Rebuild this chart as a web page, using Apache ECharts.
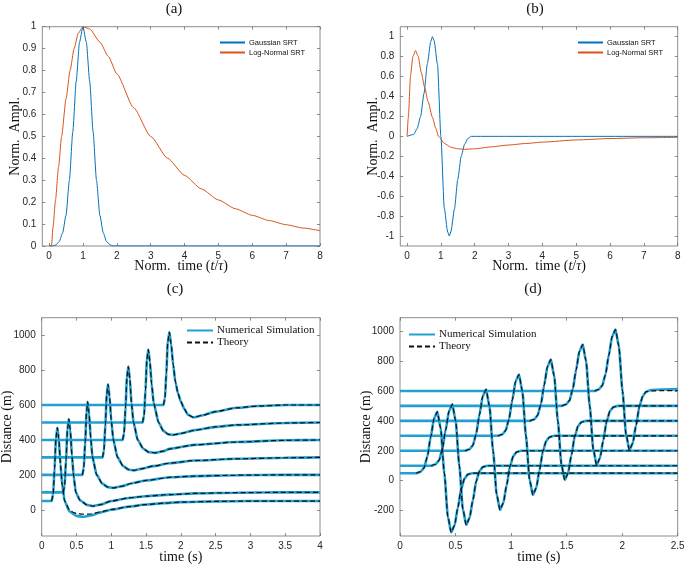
<!DOCTYPE html>
<html>
<head>
<meta charset="utf-8">
<script src="https://cdn.jsdelivr.net/npm/echarts@6/dist/echarts.min.js"></script>
<style>
  html, body { margin: 0; padding: 0; background: #fff; }
  #main { width: 685px; height: 566px; }
</style>
</head>
<body>
<div id="main"></div>
<script>
// ---- (a) normalised source time functions ----
var gaussA = [[0,0],[0.1,0],[0.2,0.005],[0.3,0.02],[0.4,0.06],[0.5,0.14],[0.6,0.3],[0.7,0.52],[0.8,0.75],[0.9,0.93],[1,1],
  [1.1,0.93],[1.2,0.75],[1.3,0.52],[1.4,0.3],[1.5,0.14],[1.6,0.06],[1.7,0.02],[1.8,0.005],[1.9,0],[8,0]];
var lognA = [[0,0],[0.07,0],[0.12,0.09],[0.19,0.21],[0.28,0.36],[0.37,0.5],[0.5,0.67],[0.62,0.8],[0.74,0.9],[0.86,0.97],[1,1],
  [1.2,0.99],[1.5,0.93],[1.75,0.865],[2,0.785],[2.5,0.63],[3,0.5],[3.5,0.4],[4,0.322],[4.5,0.26],[5,0.21],[5.5,0.17],
  [6,0.14],[6.5,0.116],[7,0.097],[7.5,0.082],[8,0.07]];

// ---- (b) derivatives ----
var gaussB = [[0,0],[0.2,0.02],[0.3,0.08],[0.4,0.2],[0.5,0.43],[0.6,0.73],[0.7,0.95],[0.75,1],[0.8,0.96],[0.9,0.72],[1.0,0],
  [1.1,-0.72],[1.2,-0.96],[1.25,-1],[1.3,-0.95],[1.4,-0.73],[1.5,-0.43],[1.6,-0.2],[1.7,-0.08],[1.8,-0.02],[1.9,0],[8,0]];
var lognB = [[0,0],[0.04,0.2],[0.1,0.6],[0.17,0.8],[0.25,0.86],[0.33,0.8],[0.42,0.64],[0.52,0.49],[0.62,0.35],[0.75,0.19],
  [0.85,0.08],[0.93,0],[1.1,-0.07],[1.3,-0.11],[1.5,-0.125],[1.7,-0.13],[2,-0.125],[2.5,-0.105],[3,-0.087],[3.5,-0.072],
  [4,-0.058],[5,-0.036],[6,-0.022],[7,-0.014],[8,-0.01]];

// ---- (c) distance traces, numerical simulation ----
var c1 = [[0,50],[0.143,50],[0.165,90],[0.185,240],[0.205,410],[0.225,470],[0.245,410],[0.27,260],[0.295,140],[0.33,50],
  [0.4,-10],[0.5,-35],[0.59,-40],[0.7,-33],[0.85,-15],[1.0,0],[1.25,18],[1.5,30],[1.75,38],[2.0,44],[2.5,48],[3.0,50],[4.0,50]];
var c2 = [[0,100],[0.31,100],[0.33,140],[0.35,290],[0.37,460],[0.39,520],[0.41,460],[0.435,310],[0.46,190],[0.49,100],
  [0.55,55],[0.65,28],[0.74,21],[0.85,30],[1.0,50],[1.25,68],[1.5,78],[1.84,87],[2.2,94],[2.8,98],[3.5,100],[4,100]];
var c3 = [[0,200],[0.585,200],[0.605,240],[0.625,390],[0.645,560],[0.66,618],[0.68,555],[0.705,410],[0.73,300],[0.79,200],
  [0.87,150],[0.95,130],[1.03,125],[1.15,135],[1.3,152],[1.5,168],[1.84,186],[2.2,193],[2.8,198],[3.5,200],[4,200]];
var c4 = [[0,300],[0.875,300],[0.895,340],[0.915,490],[0.935,660],[0.953,719],[0.975,650],[1.0,510],[1.03,400],[1.09,300],
  [1.17,250],[1.25,230],[1.32,226],[1.45,236],[1.6,250],[1.84,267],[2.2,282],[2.8,292],[3.5,298],[4,300]];
var c5 = [[0,400],[1.163,400],[1.185,440],[1.205,590],[1.225,760],[1.245,820],[1.267,750],[1.29,610],[1.32,500],[1.38,400],
  [1.46,350],[1.54,330],[1.63,326],[1.75,336],[1.84,349],[2.2,372],[2.8,388],[3.5,398],[4,400]];
var c6 = [[0,500],[1.45,500],[1.472,540],[1.492,690],[1.512,860],[1.532,918],[1.555,850],[1.58,720],[1.61,610],[1.68,500],
  [1.75,452],[1.82,432],[1.89,429],[2.0,437],[2.2,456],[2.5,475],[2.8,486],[3.5,497],[4,500]];
var c7 = [[0,600],[1.75,600],[1.772,640],[1.792,790],[1.812,960],[1.835,1017],[1.86,950],[1.89,830],[1.92,735],[1.96,665],
  [2.0,620],[2.05,578],[2.1,545],[2.18,529],[2.3,540],[2.5,562],[2.8,584],[3.1,594],[3.5,600],[4,600]];
// theory for the first trace departs slightly in the dip
var theoryC1 = [[0.143,50],[0.165,90],[0.185,240],[0.205,410],[0.225,470],[0.245,410],[0.27,260],[0.295,140],[0.33,50],
  [0.4,0],[0.45,-14],[0.5,-21],[0.59,-25],[0.7,-24],[0.85,-12],[1.0,2],[1.25,18],[1.5,30],[1.75,38],[2.0,44],[2.5,48],[3.0,50],[4.0,50]];

// ---- (d) distance traces, numerical simulation ----
var d1 = [[0,50],[0.146,50],[0.186,60],[0.216,85],[0.246,160],[0.276,290],[0.306,415],[0.336,460],[0.366,350],[0.399,50],
  [0.431,-240],[0.461,-345],[0.491,-300],[0.521,-180],[0.551,-55],[0.581,15],[0.611,42],[0.651,50],[2.5,50]];
var d2 = [[0,100],[0.281,100],[0.321,110],[0.351,135],[0.381,210],[0.411,340],[0.441,465],[0.471,510],[0.501,400],[0.534,100],
  [0.566,-190],[0.596,-295],[0.626,-250],[0.656,-130],[0.686,-5],[0.716,65],[0.746,92],[0.786,100],[2.5,100]];
var d3 = [[0,200],[0.585,200],[0.625,210],[0.655,235],[0.685,310],[0.715,440],[0.745,565],[0.775,610],[0.805,500],[0.838,200],
  [0.87,-90],[0.9,-195],[0.93,-150],[0.96,-30],[0.99,95],[1.02,165],[1.05,192],[1.09,200],[2.5,200]];
var d4 = [[0,300],[0.881,300],[0.921,310],[0.951,335],[0.981,410],[1.011,540],[1.041,665],[1.071,710],[1.101,600],[1.134,300],
  [1.166,10],[1.196,-95],[1.226,-50],[1.256,70],[1.286,195],[1.316,265],[1.346,292],[1.386,300],[2.5,300]];
var d5 = [[0,400],[1.168,400],[1.208,410],[1.238,435],[1.268,510],[1.298,640],[1.328,765],[1.358,810],[1.388,700],[1.421,400],
  [1.453,110],[1.483,5],[1.513,50],[1.543,170],[1.573,295],[1.603,365],[1.633,392],[1.673,400],[2.5,400]];
var d6 = [[0,500],[1.455,500],[1.495,510],[1.525,535],[1.555,610],[1.585,740],[1.615,865],[1.645,910],[1.675,800],[1.708,500],
  [1.74,210],[1.77,105],[1.8,150],[1.83,270],[1.86,395],[1.89,465],[1.92,492],[1.96,500],[2.5,500]];
var d7 = [[0,600],[1.75,600],[1.79,610],[1.82,635],[1.85,710],[1.88,840],[1.91,965],[1.94,1010],[1.97,900],[2.003,600],
  [2.035,310],[2.065,205],[2.095,250],[2.125,370],[2.155,495],[2.185,565],[2.215,595],[2.26,606],[2.35,610],[2.5,612]];
var theoryD7End = [[2.26,600],[2.35,602],[2.5,603]];

// tick values
var ticksA_x = [0,1,2,3,4,5,6,7,8];
var ticksA_y = [0,0.1,0.2,0.3,0.4,0.5,0.6,0.7,0.8,0.9,1];
var ticksB_y = [-1,-0.8,-0.6,-0.4,-0.2,0,0.2,0.4,0.6,0.8,1];
var ticksC_x = [0,0.5,1,1.5,2,2.5,3,3.5,4];
var ticksC_y = [0,200,400,600,800,1000];
var ticksD_x = [0,0.5,1,1.5,2,2.5];
var ticksD_y = [-200,0,200,400,600,800,1000];

var frame = '#6e6e6e', ink = '#262626';
var serif = '"Liberation Serif", "Times New Roman", serif';
var sans = '"Liberation Sans", Arial, sans-serif';
var blue = '#0072BD', orange = '#D95319', cyan = '#22a0d2';

function axes(dim, grid, min, max, ticks, name, gap, size) {
  var base = {
    type: 'value', gridIndex: grid, min: min, max: max,
    splitLine: { show: false },
    axisLine: { show: false, onZero: false },
    axisTick: { show: true, inside: true, length: 3, customValues: ticks, lineStyle: { color: frame, width: 0.8 } }
  };
  var main = Object.assign({}, base, {
    position: dim === 'x' ? 'bottom' : 'left',
    axisLabel: { customValues: ticks, color: ink, fontFamily: sans, fontSize: 10, margin: dim === 'x' ? 5 : 6,
      formatter: function (v) { return String(v); } },
    name: name, nameLocation: 'middle', nameGap: gap, nameMoveOverlap: false,
    nameTextStyle: { fontFamily: serif, fontSize: size, color: '#111',
      rich: { i: { fontFamily: serif, fontSize: size, fontStyle: 'italic', color: '#111' } } }
  });
  var other = Object.assign({}, base, { position: dim === 'x' ? 'top' : 'right', axisLabel: { show: false } });
  return [main, other];
}

function line(name, data, g, color, width, dash) {
  return {
    type: 'line', name: name, data: data, xAxisIndex: 2 * g, yAxisIndex: 2 * g,
    symbol: 'none', showSymbol: false, smooth: 0.2, smoothMonotone: 'x',
    lineStyle: { color: color, width: width, type: dash || 'solid' },
    itemStyle: { color: color }, silent: true
  };
}

var timeName = 'Norm.  time ({i|t}/{i|τ})';
var xAxes = [].concat(
  axes('x', 0, -0.2, 8, ticksA_x, timeName, 13, 14),
  axes('x', 1, -0.2, 8, ticksA_x, timeName, 13, 14),
  axes('x', 2, 0, 4, ticksC_x, 'time (s)', 14, 14),
  axes('x', 3, 0, 2.5, ticksD_x, 'time (s)', 14, 14)
);
var yAxes = [].concat(
  axes('y', 0, 0, 1, ticksA_y, 'Norm.  Ampl.', 20, 14),
  axes('y', 1, -1.1, 1.1, ticksB_y, 'Norm.  Ampl.', 20, 14),
  axes('y', 2, -150, 1100, ticksC_y, 'Distance (m)', 27, 14),
  axes('y', 3, -370, 1090, ticksD_y, 'Distance (m)', 27, 14)
);

var numC = [c1, c2, c3, c4, c5, c6, c7];
var numD = [d1, d2, d3, d4, d5, d6, d7];
var series = [
  line('Gaussian SRT', gaussA, 0, blue, 1),
  line('Log-Normal SRT', lognA, 0, orange, 1),
  line('Gaussian SRT', gaussB, 1, blue, 1),
  line('Log-Normal SRT', lognB, 1, orange, 1)
];
numC.forEach(function (d) { series.push(line('Numerical Simulation', d, 2, cyan, 2.6)); });
numD.forEach(function (d) { series.push(line('Numerical Simulation', d, 3, cyan, 2.6)); });
series.push(line('Theory', theoryC1, 2, '#111', 1.2, [5, 3]));
numC.slice(1).forEach(function (d) { series.push(line('Theory', d.slice(1), 2, '#111', 1.2, [5, 3])); });
numD.slice(0, 6).forEach(function (d) { series.push(line('Theory', d.slice(1), 3, '#111', 1.2, [5, 3])); });
series.push(line('Theory', d7.slice(1, 17).concat(theoryD7End), 3, '#111', 1.2, [5, 3]));

function grid(l, t, w, h) {
  return { left: l, top: t, width: w, height: h, show: true, borderColor: frame, borderWidth: 0.8,
    backgroundColor: 'transparent', containLabel: false, outerBoundsMode: 'none' };
}
function legend(l, t, names, font, size, w, gap) {
  return { orient: 'vertical', left: l, top: t, data: names, itemWidth: w, itemHeight: 8, itemGap: gap,
    padding: 0, selectedMode: false,
    itemStyle: { opacity: 0, borderWidth: 0 },
    textStyle: { fontFamily: font, fontSize: size, color: '#111', padding: [0, 0, 0, -1] } };
}
function label(text, x, y) {
  return { type: 'text', x: x, y: y, silent: true,
    style: { text: text, font: '15px ' + serif, fill: '#111', textAlign: 'center', textVerticalAlign: 'middle' } };
}

var chart = echarts.init(document.getElementById('main'), null, { renderer: 'canvas' });
chart.setOption({
  animation: false,
  backgroundColor: '#fff',
  grid: [grid(42.3, 26.7, 277.7, 219.3), grid(400.3, 26.7, 277.4, 219.3),
         grid(41.7, 317.7, 278.3, 218.3), grid(400, 317.7, 277.7, 218.3)],
  xAxis: xAxes,
  yAxis: yAxes,
  legend: [
    legend(219, 38.5, ['Gaussian SRT', 'Log-Normal SRT'], sans, 7.5, 25, 2),
    legend(577, 38.5, ['Gaussian SRT', 'Log-Normal SRT'], sans, 7.5, 25, 2),
    legend(186, 325, ['Numerical Simulation', 'Theory'], serif, 11, 26, 1),
    legend(408, 329, ['Numerical Simulation', 'Theory'], serif, 11, 26, 1)
  ],
  graphic: [label('(a)', 174, 9), label('(b)', 535, 9), label('(c)', 175, 289), label('(d)', 533, 289)],
  series: series
});
</script>
</body>
</html>
